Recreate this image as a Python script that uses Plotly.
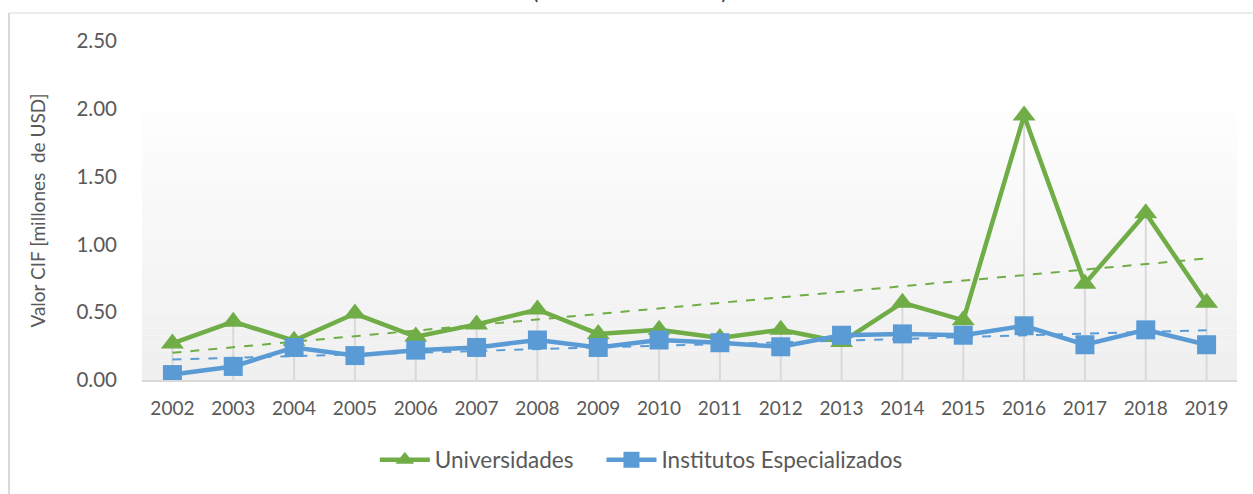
import numpy as np
import plotly.graph_objects as go

years = [str(y) for y in range(2002, 2020)]
universidades = [0.27, 0.43, 0.29, 0.49, 0.32, 0.41, 0.52, 0.34, 0.37, 0.31,
                 0.37, 0.28, 0.57, 0.44, 1.95, 0.71, 1.23, 0.57]
institutos = [0.04, 0.10, 0.24, 0.18, 0.22, 0.24, 0.295, 0.24, 0.295, 0.275,
              0.245, 0.33, 0.34, 0.33, 0.40, 0.26, 0.37, 0.26]
y_ticks = [0, 0.5, 1.0, 1.5, 2.0, 2.5]

GREEN = "#70AD47"
BLUE = "#5B9BD5"
FONT = "Lato"
TXT = "#595959"

fig = go.Figure()

# gradient background of the plot area (white at top -> light grey at bottom)
n_bands = 40
top_val = 2.175
for i in range(n_bands):
    y0 = top_val * i / n_bands
    y1 = top_val * (i + 1) / n_bands
    t = i / (n_bands - 1)  # 0 bottom, 1 top
    g = int(round(239 + (255 - 239) * t))
    fig.add_shape(type="rect", xref="paper", yref="y", x0=0, x1=1, y0=y0, y1=y1,
                  fillcolor=f"rgb({g},{g},{g})", line_width=0, layer="below")

# drop lines
dx, dy = [], []
for yr, a, b in zip(years, universidades, institutos):
    dx += [yr, yr, None]
    dy += [0, max(a, b), None]
fig.add_trace(go.Scatter(x=dx, y=dy, mode="lines", line=dict(color="#d9d9d9", width=2),
                         showlegend=False, hoverinfo="skip"))

# linear trend lines
idx = np.arange(len(years))
for vals, col in [(universidades, GREEN), (institutos, BLUE)]:
    m, c = np.polyfit(idx, vals, 1)
    fig.add_trace(go.Scatter(x=years, y=m * idx + c, mode="lines",
                             line=dict(color=col, width=2, dash="dash"),
                             showlegend=False, hoverinfo="skip"))

fig.add_trace(go.Scatter(x=years, y=universidades, name="Universidades\u00a0\u00a0\u00a0\u00a0",
                         mode="lines+markers",
                         line=dict(color=GREEN, width=4.5),
                         marker=dict(symbol="triangle-up", size=20, color=GREEN)))
fig.add_trace(go.Scatter(x=years, y=institutos, name="Institutos Especializados", mode="lines+markers",
                         line=dict(color=BLUE, width=4.5),
                         marker=dict(symbol="square", size=19, color=BLUE)))

# outer chart border (light grey)
fig.add_shape(type="line", xref="paper", yref="paper", x0=-0.1215, x1=1.02,
              y0=1.0826, y1=1.0826, line=dict(color="#e6e6e6", width=1.5))
fig.add_shape(type="line", xref="paper", yref="paper", x0=-0.1215, x1=-0.1215,
              y0=1.0826, y1=-0.34, line=dict(color="#d9d9d9", width=2))

# partially visible title (cut off at top of the image, as in the reference)
fig.add_annotation(text="(Valor CIF en USD)", xref="paper", yref="paper",
                   x=(630 - 142) / 1095, y=1.1032, xanchor="center", yanchor="bottom",
                   showarrow=False, font=dict(family=FONT, size=24, color="#404040"))

fig.update_layout(
    width=1253, height=494,
    margin=dict(l=142, r=16, t=41, b=114),
    paper_bgcolor="white", plot_bgcolor="rgba(0,0,0,0)",
    font=dict(family=FONT, color=TXT),
    showlegend=True,
    legend=dict(orientation="h", x=0.456, xanchor="center", y=-0.236, yanchor="middle",
                font=dict(family=FONT, size=22.5, color=TXT), itemwidth=50,
                traceorder="normal"),
    xaxis=dict(type="category", range=[-0.5, 17.5], showgrid=False,
               showline=True, linecolor="#d9d9d9", linewidth=2,
               ticks="", tickfont=dict(family=FONT, size=19, color=TXT), ticklabelstandoff=10),
    yaxis=dict(range=[0, 2.5], tickvals=y_ticks, tickformat=".2f", showgrid=False,
               zeroline=False, showline=False, ticks="",
               tickfont=dict(family=FONT, size=20.5, color=TXT), ticklabelstandoff=24,
               title=dict(text="Valor CIF [millones  de USD]", standoff=25,
                          font=dict(family=FONT, size=19, color=TXT))),
)

fig.write_html("out.html", config={"displayModeBar": False},
               post_script="document.body.style.margin='0';document.body.style.padding='0';")
